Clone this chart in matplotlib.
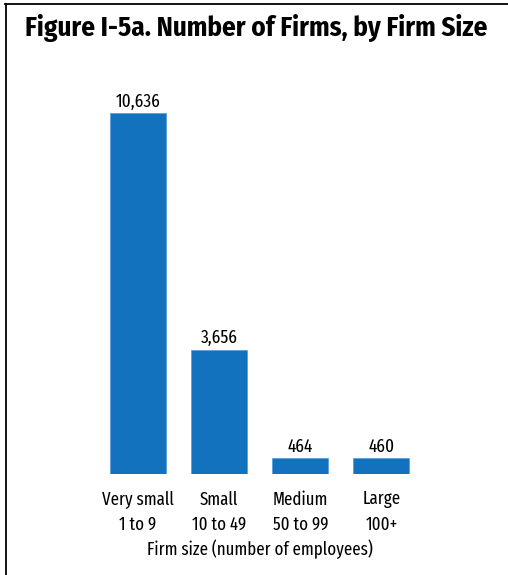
import matplotlib
matplotlib.use("Agg")
import matplotlib.pyplot as plt
from matplotlib.lines import Line2D
import logging
logging.getLogger("matplotlib.font_manager").setLevel(logging.ERROR)

categories = ["Very small\n1 to 9", "Small\n10 to 49", "Medium\n50 to 99", "Large\n100+"]
firm_counts = [10636, 3656, 464, 460]
title = "Figure I-5a. Number of Firms, by Firm Size"
xlabel = "Firm size (number of employees)"

W, H = 508, 575
DPI = 100
fig = plt.figure(figsize=(W / DPI, H / DPI), dpi=DPI)
fig.patch.set_facecolor("white")

body_font = ["Fira Sans Extra Condensed", "Fira Sans Condensed", "DejaVu Sans"]
title_font = ["Fira Sans Condensed", "DejaVu Sans"]
bar_color = "#1272BE"

# axes placed in pixel terms
left, right, bottom, top = 97.5, 422.0, 474.0, 113.0
ax = fig.add_axes([left / W, 1 - bottom / H, (right - left) / W, (bottom - top) / H])
x = range(len(categories))
ax.bar(x, firm_counts, width=0.69, color=bar_color, edgecolor="#5AA0DA", linewidth=0.6)
ax.set_xlim(-0.5, len(categories) - 0.5)
ax.set_ylim(0, max(firm_counts))
for s in ax.spines.values():
    s.set_visible(False)
ax.set_yticks([])
ax.set_xticks(list(x))
ax.set_xticklabels(categories, fontfamily=body_font, fontsize=13.2, linespacing=1.5)
ax.tick_params(axis="x", length=0, pad=12)
ax.set_xlabel(xlabel, fontfamily=body_font, fontsize=13.2, labelpad=4)
ax.patch.set_alpha(0)

for xi, v in zip(x, firm_counts):
    ax.annotate(f"{v:,}", (xi, v), xytext=(0, 2), textcoords="offset points",
                ha="center", va="bottom", fontfamily=body_font, fontsize=13.5, clip_on=False)

fig.text(256 / W, 1 - 28 / H, title, ha="center", va="center",
         fontfamily=title_font, fontweight="bold", fontsize=19.5)

# frame lines along the top and left edges
fig.add_artist(Line2D([5.5 / W, 5.5 / W], [0, 1 - 4 / H], transform=fig.transFigure,
                      color="black", linewidth=1.3))
fig.add_artist(Line2D([5 / W, 1], [1 - 4 / H, 1 - 4 / H], transform=fig.transFigure,
                      color="black", linewidth=1.3))

fig.savefig("out.png", dpi=DPI, facecolor="white")
